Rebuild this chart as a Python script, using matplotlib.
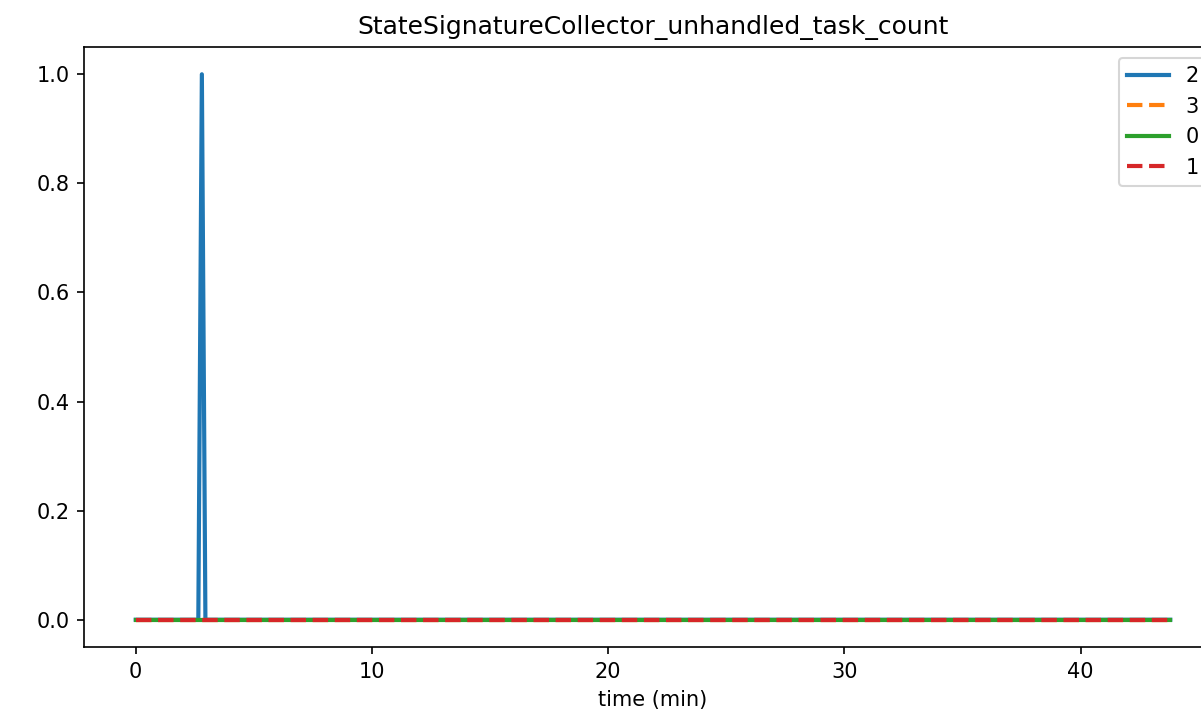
import matplotlib
matplotlib.use("Agg")
from matplotlib import pyplot as plt

# time points (min) and the unhandled task count per node
time_min = [0.0, 2.65, 2.8, 2.95, 43.8]
node2 = [0, 0, 1, 0, 0]
node3 = [0, 0, 0, 0, 0]
node0 = [0, 0, 0, 0, 0]
node1 = [0, 0, 0, 0, 0]

series = [("2", node2, "-"), ("3", node3, "--"), ("0", node0, "-"), ("1", node1, "--")]
colors = ["#1f77b4", "#ff7f0e", "#2ca02c", "#d62728"]

fig = plt.figure(figsize=(1201 / 150, 719 / 150), dpi=150)
ax = fig.add_axes([84 / 1201, 72 / 719, (1222 - 84) / 1201, 600 / 719])

for (name, vals, ls), c in zip(series, colors):
    ax.plot(time_min, vals, ls, color=c, linewidth=2, label=name)

ax.set_xlabel("time (min)")
ax.set_title("StateSignatureCollector_unhandled_task_count")
ax.legend(loc="upper left", bbox_to_anchor=(1119 / 1201, 1 - 58 / 719),
          bbox_transform=fig.transFigure, borderaxespad=0)

fig.savefig("out.png", dpi=150)
